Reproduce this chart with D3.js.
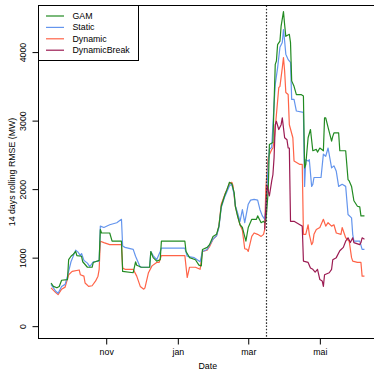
<!DOCTYPE html>
<html>
<head>
<meta charset="utf-8">
<script src="https://cdn.jsdelivr.net/npm/d3@7/dist/d3.min.js"></script>
<style>
  html, body { margin: 0; padding: 0; background: #fff; }
  svg { display: block; font-family: "Liberation Sans", Arial, Helvetica, sans-serif; }
</style>
</head>
<body>
<div id="chart"></div>
<script>
// day offsets are counted from startDate; values are 14 day rolling RMSE in MW
const startDate = "2019-09-15";
const breakDate = "2020-03-16";

const seriesNames = ["GAM", "Static", "Dynamic", "DynamicBreak"];

const gam = [[0,630],[2,580],[5,560],[7,580],[9,670],[14,680],[15,970],[17,1020],[19,1050],[21,1090],[22,1030],[26,1020],[27,940],[31,860],[35,860],[36,930],[41,960],[42,1410],[43,1360],[50,1360],[52,1240],[60,1240],[61,800],[70,780],[72,940],[73,890],[77,860],[84,860],[85,1090],[87,1000],[90,950],[93,970],[94,1240],[114,1240],[115,1090],[118,1000],[123,970],[126,890],[128,880],[129,1120],[133,1150],[135,1190],[138,1310],[141,1340],[143,1460],[145,1750],[148,1910],[150,2000],[152,2100],[154,2080],[156,1950],[157,1750],[159,1600],[161,1480],[163,1440],[166,1240],[168,1440],[171,1560],[175,1560],[176,1610],[179,1510],[181,1530],[182,1510],[183,1530],[185,1970],[186,2650],[189,2680],[191,3820],[192,3870],[193,4110],[195,4160],[196,4380],[198,4590],[199,4400],[200,4230],[203,4260],[204,4140],[205,3580],[207,3500],[209,3380],[213,3380],[215,3360],[216,2310],[217,2360],[219,2750],[221,2870],[223,2560],[226,2580],[227,2540],[229,2600],[232,2560],[233,3040],[234,3040],[236,2900],[239,2700],[240,2770],[241,2820],[245,2820],[246,2560],[251,2560],[253,2140],[254,2120],[256,2040],[258,1830],[261,1750],[263,1740],[264,1610],[267,1610]];

const staticModel = [[0,610],[4,510],[6,480],[9,580],[12,610],[14,730],[17,940],[21,1110],[23,1080],[25,1030],[26,1060],[28,960],[31,920],[33,870],[36,940],[41,950],[42,1460],[45,1440],[50,1480],[56,1510],[60,1560],[61,1170],[63,1150],[70,1120],[72,1020],[76,860],[84,860],[85,1090],[87,1030],[90,970],[93,1090],[94,1140],[114,1140],[116,1020],[122,1000],[127,940],[129,1090],[133,1120],[135,1180],[138,1270],[141,1320],[143,1440],[145,1730],[148,1890],[150,1970],[152,2050],[154,2070],[156,1920],[157,1760],[159,1650],[161,1530],[163,1700],[165,1510],[168,1780],[170,1840],[173,1850],[176,1840],[178,1700],[180,1610],[182,1560],[183,1700],[185,2360],[186,2580],[188,2610],[190,3240],[191,3530],[193,3770],[195,4070],[197,4140],[198,4330],[199,4160],[200,3970],[202,3890],[204,3850],[205,3310],[207,3310],[209,3140],[215,3120],[216,2040],[217,2430],[219,2410],[220,2430],[222,2040],[223,2070],[224,2170],[230,2170],[232,2510],[234,2480],[236,2600],[239,2310],[241,2340],[243,2260],[245,2040],[248,2070],[251,2040],[253,1630],[256,1580],[257,1340],[258,1240],[263,1240],[265,1120],[267,1120]];

const dynamicModel = [[0,560],[4,490],[6,460],[9,540],[12,570],[15,750],[18,800],[24,820],[25,750],[28,730],[29,630],[32,580],[35,590],[38,660],[40,730],[41,830],[42,1240],[45,1220],[50,1190],[60,1190],[61,850],[63,830],[70,830],[73,730],[76,580],[79,540],[80,560],[83,780],[86,880],[90,930],[92,930],[94,1030],[114,1030],[116,710],[118,860],[123,860],[127,830],[129,1090],[133,1110],[135,1160],[138,1270],[141,1320],[143,1460],[145,1780],[148,1920],[150,2000],[152,2080],[154,2100],[155,2050],[156,1900],[157,1750],[159,1610],[161,1480],[163,1400],[165,1130],[167,1120],[168,1090],[171,1310],[173,1360],[176,1340],[179,1310],[181,1340],[182,1410],[183,2020],[185,2460],[188,2580],[189,2600],[190,2700],[192,3090],[194,3480],[195,3500],[197,3770],[198,3920],[199,3720],[200,3410],[202,3380],[203,2940],[206,2750],[207,2410],[212,2360],[214,2360],[215,1340],[217,1340],[219,1480],[220,1340],[222,1190],[223,1220],[224,1340],[226,1410],[229,1440],[232,1560],[234,1460],[236,1510],[239,1460],[241,1480],[243,1360],[247,1340],[248,1440],[251,1290],[254,1240],[256,1000],[257,950],[261,930],[264,930],[265,730],[267,730]];

const dynamicBreak = [[182,1410],[184,2060],[186,1900],[188,2120],[189,2210],[190,2460],[191,2940],[192,2990],[194,2870],[196,2940],[197,3040],[199,2750],[201,2720],[202,2600],[203,2600],[204,1530],[207,1530],[212,1480],[214,1460],[215,950],[219,930],[221,850],[223,830],[225,790],[227,830],[229,680],[231,660],[232,580],[233,750],[237,780],[239,830],[240,970],[243,1000],[246,1100],[249,1150],[251,1240],[253,1290],[255,1220],[257,1290],[258,1220],[263,1190],[264,1220],[265,1290],[267,1270]];

const yLim = [0, 4500];
const yTicks = [0, 1000, 2000, 3000, 4000];
const xTickDates = ["2019-11-01", "2020-01-01", "2020-03-01", "2020-05-01"];
const xTickLabels = ["nov", "jan", "mar", "mai"];

const colors = {
    GAM: "#228B22",
    Static: "#6495ED",
    Dynamic: "#FF6347",
    DynamicBreak: "#9B1B52"
};

const width = 374;
const height = 371;
const plot = { left: 38.5, right: 377, top: 5.5, bottom: 338.5 };
const fontSize = 8.8;

const parse = d3.timeParse("%Y-%m-%d");
const start = parse(startDate);
const toPoints = arr => arr.map(p => ({ date: d3.timeDay.offset(start, p[0]), value: p[1] }));

const series = [
    { name: "GAM", points: toPoints(gam) },
    { name: "Static", points: toPoints(staticModel) },
    { name: "Dynamic", points: toPoints(dynamicModel) },
    { name: "DynamicBreak", points: toPoints(dynamicBreak) }
];

const svg = d3.select("#chart").append("svg")
    .attr("width", width)
    .attr("height", height)
    .attr("viewBox", "0 0 " + width + " " + height);

svg.append("rect").attr("width", width).attr("height", height).attr("fill", "#fff");

// R style 4% expansion of the axis ranges
const allDates = series.flatMap(s => s.points.map(p => p.date));
const [d0, d1] = d3.extent(allDates);
const xPad = (d1 - d0) * 0.04;
const x = d3.scaleTime()
    .domain([new Date(+d0 - xPad), new Date(+d1 + xPad)])
    .range([plot.left, plot.right]);

const yPad = (yLim[1] - yLim[0]) * 0.04;
const y = d3.scaleLinear()
    .domain([yLim[0] - yPad, yLim[1] + yPad])
    .range([plot.bottom, plot.top]);

const line = d3.line()
    .x(d => x(d.date))
    .y(d => y(d.value));

// drawing order: Dynamic, Static, GAM, then DynamicBreak on top
const drawOrder = ["Dynamic", "Static", "GAM", "DynamicBreak"];
drawOrder.forEach(name => {
    const s = series.find(d => d.name === name);
    svg.append("path")
        .datum(s.points)
        .attr("fill", "none")
        .attr("stroke", colors[name])
        .attr("stroke-width", 1.2)
        .attr("stroke-linejoin", "round")
        .attr("d", line);
});

// break date
const bx = Math.round(x(parse(breakDate))) + 0.5;
svg.append("line")
    .attr("x1", bx).attr("x2", bx)
    .attr("y1", plot.top).attr("y2", plot.bottom)
    .attr("stroke", "#333")
    .attr("stroke-width", 1.2)
    .attr("stroke-dasharray", "1.6,1.6");

// box
svg.append("rect")
    .attr("x", plot.left).attr("y", plot.top)
    .attr("width", plot.right - plot.left)
    .attr("height", plot.bottom - plot.top)
    .attr("fill", "none")
    .attr("stroke", "#000")
    .attr("stroke-width", 1);

// y axis
const yAxis = svg.append("g")
    .attr("transform", "translate(" + plot.left + ",0)")
    .call(d3.axisLeft(y).tickValues(yTicks).tickSize(6).tickFormat(d3.format("d")));
yAxis.select(".domain").remove();
yAxis.selectAll("line").attr("stroke", "#000");
yAxis.selectAll("text")
    .attr("x", 0)
    .attr("y", -15.5)
    .attr("dy", "0.35em")
    .attr("transform", "rotate(-90)")
    .attr("text-anchor", "middle")
    .attr("fill", "#000")
    .style("font-size", fontSize + "px")
    .style("font-family", "'Liberation Sans', Arial, sans-serif");

// x axis
const xAxis = svg.append("g")
    .attr("transform", "translate(0," + plot.bottom + ")")
    .call(d3.axisBottom(x)
        .tickValues(xTickDates.map(parse))
        .tickSize(6)
        .tickPadding(4)
        .tickFormat((d, i) => xTickLabels[i]));
xAxis.select(".domain").remove();
xAxis.selectAll("line").attr("stroke", "#000");
xAxis.selectAll("text")
    .attr("fill", "#000")
    .style("font-size", fontSize + "px")
    .style("font-family", "'Liberation Sans', Arial, sans-serif");

// axis titles
svg.append("text")
    .attr("x", (plot.left + plot.right) / 2)
    .attr("y", 369)
    .attr("text-anchor", "middle")
    .style("font-size", fontSize + "px")
    .text("Date");

svg.append("text")
    .attr("transform", "translate(15," + ((plot.top + plot.bottom) / 2) + ") rotate(-90)")
    .attr("text-anchor", "middle")
    .style("font-size", fontSize + "px")
    .text("14 days rolling RMSE (MW)");

// legend
const legend = svg.append("g");
legend.append("rect")
    .attr("x", plot.left).attr("y", plot.top)
    .attr("width", 100).attr("height", 55)
    .attr("fill", "#fff")
    .attr("stroke", "#000")
    .attr("stroke-width", 1);

seriesNames.forEach((name, i) => {
    const ly = 16 + i * 11.4;
    legend.append("line")
        .attr("x1", 46).attr("x2", 64)
        .attr("y1", ly).attr("y2", ly)
        .attr("stroke", colors[name])
        .attr("stroke-width", 1.2);
    legend.append("text")
        .attr("x", 72.5).attr("y", ly)
        .attr("dy", "0.35em")
        .style("font-size", fontSize + "px")
        .text(name);
});
</script>
</body>
</html>
